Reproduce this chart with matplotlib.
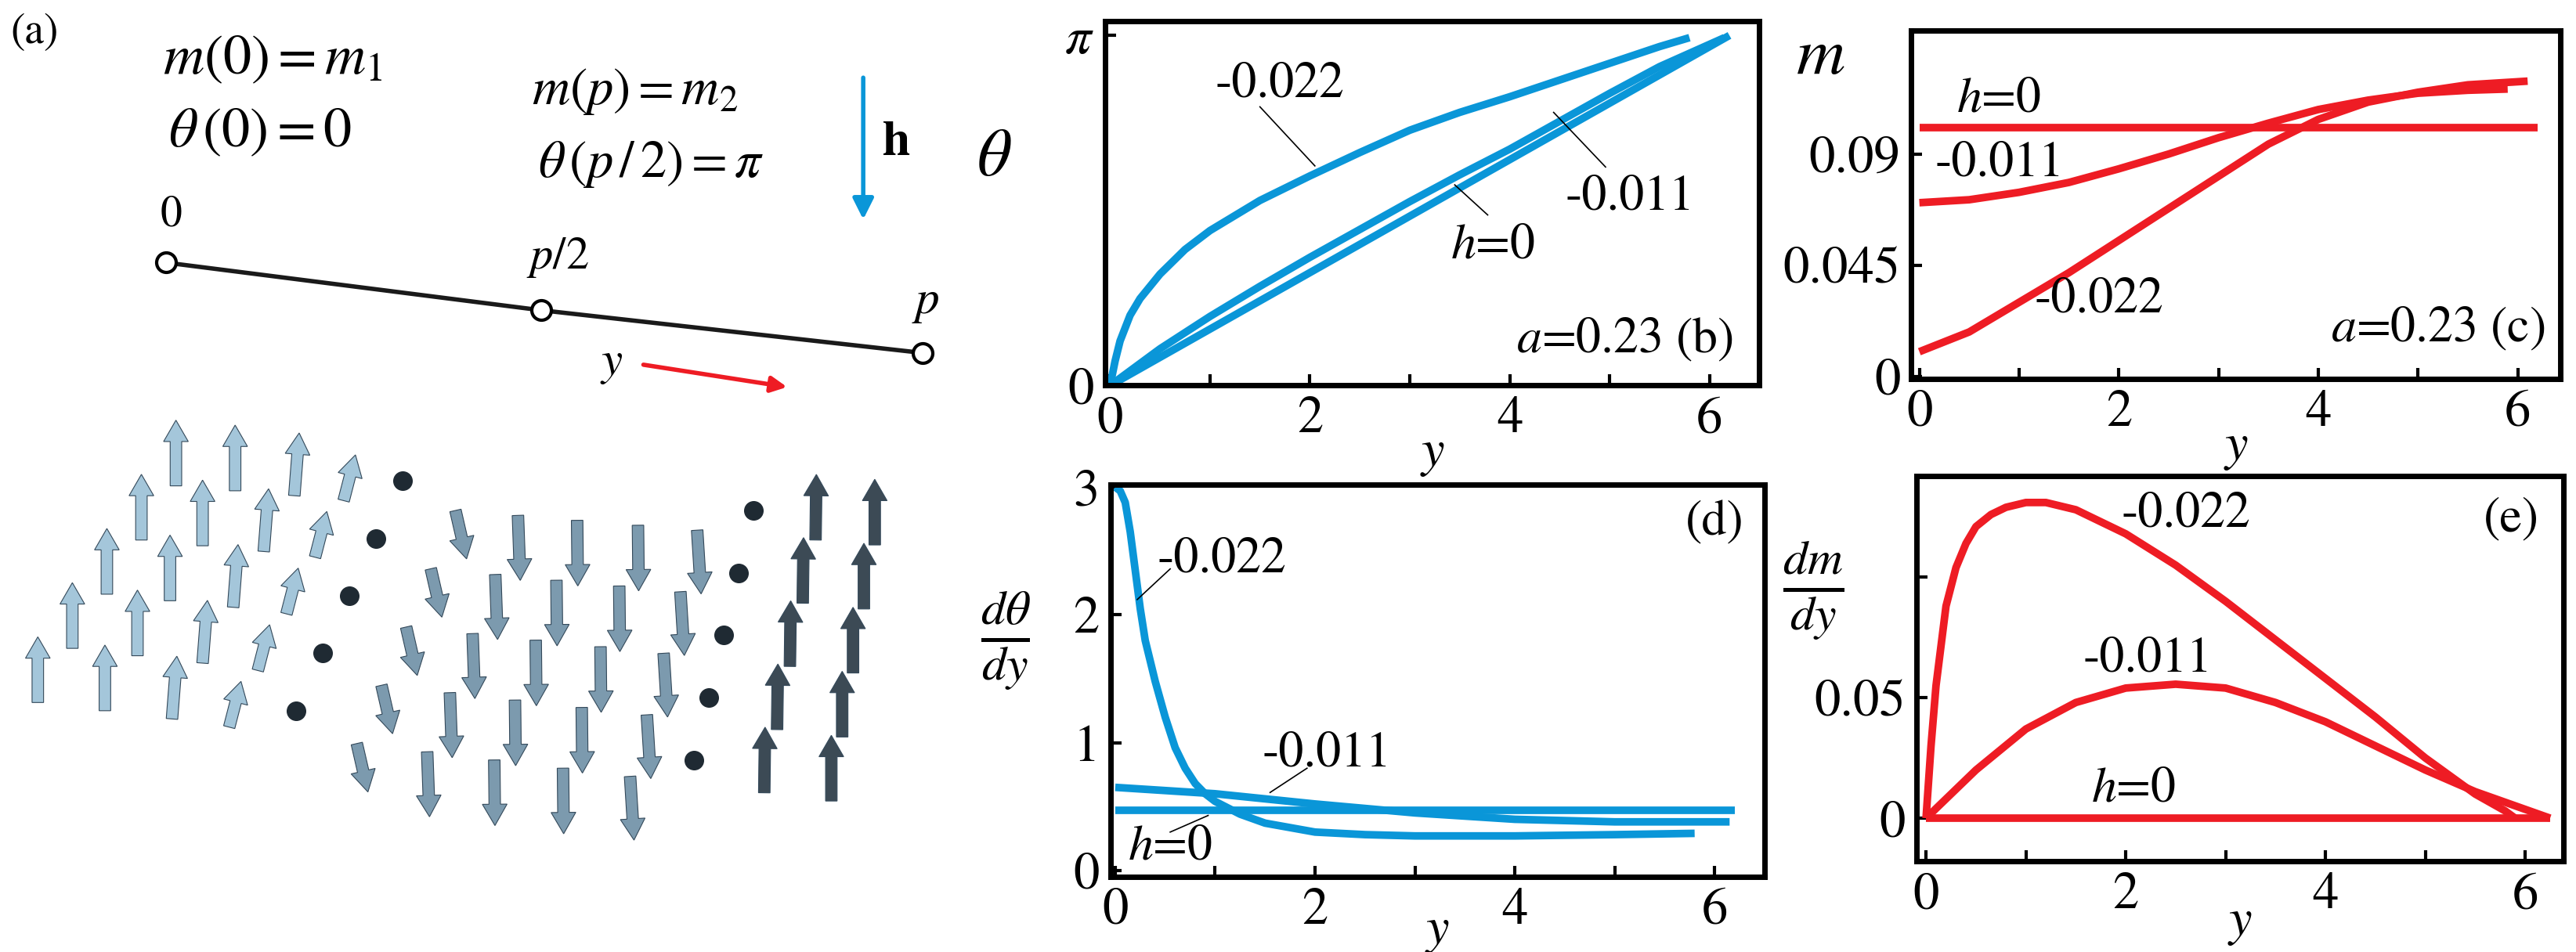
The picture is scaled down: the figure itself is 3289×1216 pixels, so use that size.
import numpy as np
import matplotlib
matplotlib.use("Agg")
import matplotlib.pyplot as plt
from matplotlib.patches import FancyArrow

plt.rcParams["font.family"] = ["STIXGeneral", "DejaVu Serif"]
plt.rcParams["mathtext.fontset"] = "stix"

BLUE = "#0a96d8"
RED = "#ee1c24"

# (b) theta(y)
b_y0 = [0, 6.2]
b_t0 = [0, 3.14]
b_y1 = [0, 0.5, 1, 1.5, 2, 2.5, 3, 3.5, 4, 4.5, 5, 5.5, 6.15]
b_t1 = [0, 0.33, 0.62, 0.89, 1.15, 1.40, 1.65, 1.89, 2.12, 2.37, 2.62, 2.86, 3.12]
b_y2 = [0, 0.05, 0.1, 0.2, 0.3, 0.5, 0.75, 1, 1.5, 2, 2.5, 3, 3.5, 4, 4.5, 5, 5.5, 5.8]
b_t2 = [0, 0.22, 0.4, 0.63, 0.78, 1.0, 1.22, 1.39, 1.66, 1.88, 2.09, 2.29, 2.45, 2.59, 2.74, 2.89, 3.04, 3.12]

# (c) m(y)
c_y0 = [0, 6.2]
c_m0 = [0.1006, 0.1006]
c_y1 = [0, 0.5, 1, 1.5, 2, 2.5, 3, 3.5, 4, 4.5, 5, 5.5, 5.9]
c_m1 = [0.0703, 0.0715, 0.0745, 0.0785, 0.084, 0.090, 0.0966, 0.1025, 0.108, 0.1118, 0.1146, 0.1158, 0.1163]
c_y2 = [0, 0.5, 1, 1.5, 2, 2.5, 3, 3.5, 4, 4.5, 5, 5.5, 6.1]
c_m2 = [0.010, 0.018, 0.030, 0.042, 0.055, 0.068, 0.081, 0.094, 0.104, 0.111, 0.115, 0.118, 0.1195]

# (d) dtheta/dy
d_y0 = [0, 6.2]
d_v0 = [0.47, 0.47]
d_y1 = [0, 1, 2, 3, 4, 5, 6.15]
d_v1 = [0.65, 0.6, 0.52, 0.45, 0.40, 0.38, 0.38]
d_y2 = [0, 0.05, 0.1, 0.15, 0.2, 0.25, 0.3, 0.4, 0.5, 0.6, 0.7, 0.8, 0.9, 1.0, 1.25, 1.5, 2, 2.5, 3, 4, 5, 5.8]
d_v2 = [3.0, 2.97, 2.88, 2.65, 2.35, 2.05, 1.80, 1.48, 1.20, 0.96, 0.80, 0.68, 0.60, 0.54, 0.44, 0.37, 0.30, 0.28, 0.27, 0.27, 0.28, 0.29]

# (e) dm/dy
e_y0 = [0, 6.25]
e_v0 = [0, 0]
e_y1 = [0, 0.5, 1, 1.5, 2, 2.5, 3, 3.5, 4, 4.5, 5, 5.5, 6.25]
e_v1 = [0, 0.02, 0.037, 0.048, 0.054, 0.0556, 0.054, 0.048, 0.040, 0.030, 0.020, 0.011, 0]
e_y2 = [0, 0.05, 0.1, 0.2, 0.3, 0.4, 0.5, 0.65, 0.8, 1.0, 1.2, 1.5, 2, 2.5, 3, 3.5, 4, 4.5, 5, 5.5, 5.8, 5.9]
e_v2 = [0, 0.03, 0.055, 0.088, 0.104, 0.114, 0.121, 0.126, 0.129, 0.131, 0.131, 0.128, 0.118, 0.105, 0.090, 0.074, 0.058, 0.042, 0.025, 0.010, 0.003, 0]

# (a) spin texture: rotation angle of each column (rad, 0 = up), column top x
col_angle = [0, 0, 0.3, 0.8, 1.57, 2.4, 3.0, 3.1, 3.1, 2.9, 1.57, 0.05, 0.0]
col_x = [107, 143, 179, 209, 245, 277, 315, 351, 388, 424, 458, 496, 532]


def style(ax, xlim, ylim):
    ax.set_xlim(*xlim)
    ax.set_ylim(*ylim)
    for s in ax.spines.values():
        s.set_linewidth(5)
    ax.set_xticks([0, 2, 4, 6])
    ax.set_xticks([1, 3, 5], minor=True)
    ax.tick_params(direction="in", length=10, width=3, labelsize=48, pad=10)
    ax.tick_params(which="minor", direction="in", length=10, width=3)


def curves(ax, data, color):
    for xs, ys in data:
        ax.plot(xs, ys, color=color, lw=7, solid_capstyle="butt", solid_joinstyle="round")


def label(ax, s, x, y, size=46, **kw):
    ax.text(x, y, s, fontsize=size, ha="center", va="center", **kw)


def leader(ax, p0, p1):
    ax.plot([p0[0], p1[0]], [p0[1], p1[1]], color="black", lw=1.2)


fig = plt.figure(figsize=(32.89, 12.16), dpi=100)

# ---- (a) schematic
axa = fig.add_axes([0, 0, 0.42, 1])
axa.set_xlim(0, 658)
axa.set_ylim(580, 0)
axa.axis("off")
label(axa, "(a)", 21, 20, size=40)
label(axa, r"$m(0)=m_1$", 166, 37, size=52)
label(axa, r"$\theta\,(0)=0$", 158, 81, size=52)
label(axa, r"$m(p)=m_2$", 386, 56, size=48)
label(axa, r"$\theta\,(p\,/\,2)=\pi$", 396, 100, size=48)
axa.annotate("", xy=(525, 135), xytext=(525, 46),
             arrowprops=dict(arrowstyle="-|>", color=BLUE, lw=4, mutation_scale=40))
label(axa, r"$\mathbf{h}$", 545, 87, size=46)
axa.plot([101, 329, 561], [160, 189, 215], color="#1a1a1a", lw=4)
axa.plot([101, 329, 561], [160, 189, 215], "o", ms=18, mfc="white", mec="black", mew=3)
label(axa, "0", 104, 131, size=40)
label(axa, r"$p/2$", 339, 157, size=42)
label(axa, r"$p$", 563, 185, size=44)
label(axa, r"$y$", 372, 222, size=44)
axa.annotate("", xy=(480, 236), xytext=(390, 222),
             arrowprops=dict(arrowstyle="-|>", color=RED, lw=4, mutation_scale=30))
for i, (cx, ang) in enumerate(zip(col_x, col_angle)):
    dx = -21 + 1.2 * i
    dy = 33 + 0.5 * i
    for j in range(5):
        bx = cx + dx * j
        by = 262 + 3 * i + dy * j + 34
        proj = np.cos(ang)
        if abs(proj) < 0.3:
            axa.plot(bx, by - 15, "o", ms=17, color="#1f2a33")
            continue
        L = 40 * proj
        c = "#a4c6da" if proj > 0 else "#7c9aae"
        if i >= 11:
            c = "#3c4a55"
        axa.add_patch(FancyArrow(bx, by, 10 * np.sin(ang), -L, width=7,
                                 head_width=15, head_length=13, color=c,
                                 ec="#34495a", lw=0.8, length_includes_head=True))

# ---- (b)
axb = fig.add_axes([0.429, 0.595, 0.254, 0.383])
curves(axb, [(b_y0, b_t0), (b_y1, b_t1), (b_y2, b_t2)], BLUE)
style(axb, (-0.05, 6.5), (0, 3.27))
axb.set_yticks([0, np.pi])
axb.set_yticklabels(["0", r"$\pi$"])
label(axb, "-0.022", 1.7, 2.70)
leader(axb, (1.5, 2.5), (2.05, 1.97))
label(axb, "-0.011", 5.2, 1.69)
leader(axb, (4.96, 1.96), (4.44, 2.45))
label(axb, r"$h$=0", 3.83, 1.25)
leader(axb, (3.78, 1.53), (3.45, 1.8))
label(axb, r"$a$=0.23 (b)", 5.15, 0.41)
axb.text(-0.17, 0.62, r"$\theta$", transform=axb.transAxes, fontsize=62, ha="center", va="center")
axb.text(0.5, -0.19, r"$y$", transform=axb.transAxes, fontsize=48, ha="center", va="center")

# ---- (c)
axc = fig.add_axes([0.742, 0.602, 0.252, 0.366])
curves(axc, [(c_y0, c_m0), (c_y1, c_m1), (c_y2, c_m2)], RED)
style(axc, (-0.08, 6.43), (-0.001, 0.140))
axc.set_yticks([0, 0.045, 0.09])
axc.set_yticklabels(["0", "0.045", "0.09"])
label(axc, r"$h$=0", 0.8, 0.112)
label(axc, "-0.011", 0.8, 0.086)
label(axc, "-0.022", 1.8, 0.031)
label(axc, r"$a$=0.23 (c)", 5.2, 0.019)
axc.text(-0.14, 0.92, r"$m$", transform=axc.transAxes, fontsize=62, ha="center", va="center")
axc.text(0.5, -0.2, r"$y$", transform=axc.transAxes, fontsize=48, ha="center", va="center")

# ---- (d)
axd = fig.add_axes([0.431, 0.079, 0.254, 0.412])
curves(axd, [(d_y0, d_v0), (d_y1, d_v1), (d_y2, d_v2)], BLUE)
style(axd, (-0.05, 6.5), (-0.05, 3.02))
axd.set_yticks([0, 1, 2, 3])
label(axd, "-0.022", 1.07, 2.43)
leader(axd, (0.55, 2.36), (0.22, 2.12))
label(axd, "-0.011", 2.12, 0.91)
leader(axd, (1.92, 0.80), (1.55, 0.61))
label(axd, r"$h$=0", 0.55, 0.18)
leader(axd, (0.55, 0.30), (0.93, 0.43))
label(axd, "(d)", 6.0, 2.72)
axd.text(-0.16, 0.6, r"$\frac{d\theta}{dy}$", transform=axd.transAxes, fontsize=64, ha="center", va="center")
axd.text(0.5, -0.14, r"$y$", transform=axd.transAxes, fontsize=48, ha="center", va="center")

# ---- (e)
axe = fig.add_axes([0.744, 0.095, 0.251, 0.405])
curves(axe, [(e_y0, e_v0), (e_y1, e_v1), (e_y2, e_v2)], RED)
style(axe, (-0.095, 6.38), (-0.018, 0.142))
axe.set_yticks([0, 0.05])
axe.set_yticklabels(["0", "0.05"])
axe.set_yticks([0.1], minor=True)
label(axe, "-0.022", 2.6, 0.126)
label(axe, "-0.011", 2.22, 0.066)
label(axe, r"$h$=0", 2.08, 0.012)
label(axe, "(e)", 5.86, 0.124)
axe.text(-0.16, 0.7, r"$\frac{dm}{dy}$", transform=axe.transAxes, fontsize=64, ha="center", va="center")
axe.text(0.5, -0.16, r"$y$", transform=axe.transAxes, fontsize=48, ha="center", va="center")

fig.savefig("out.png", dpi=100)
